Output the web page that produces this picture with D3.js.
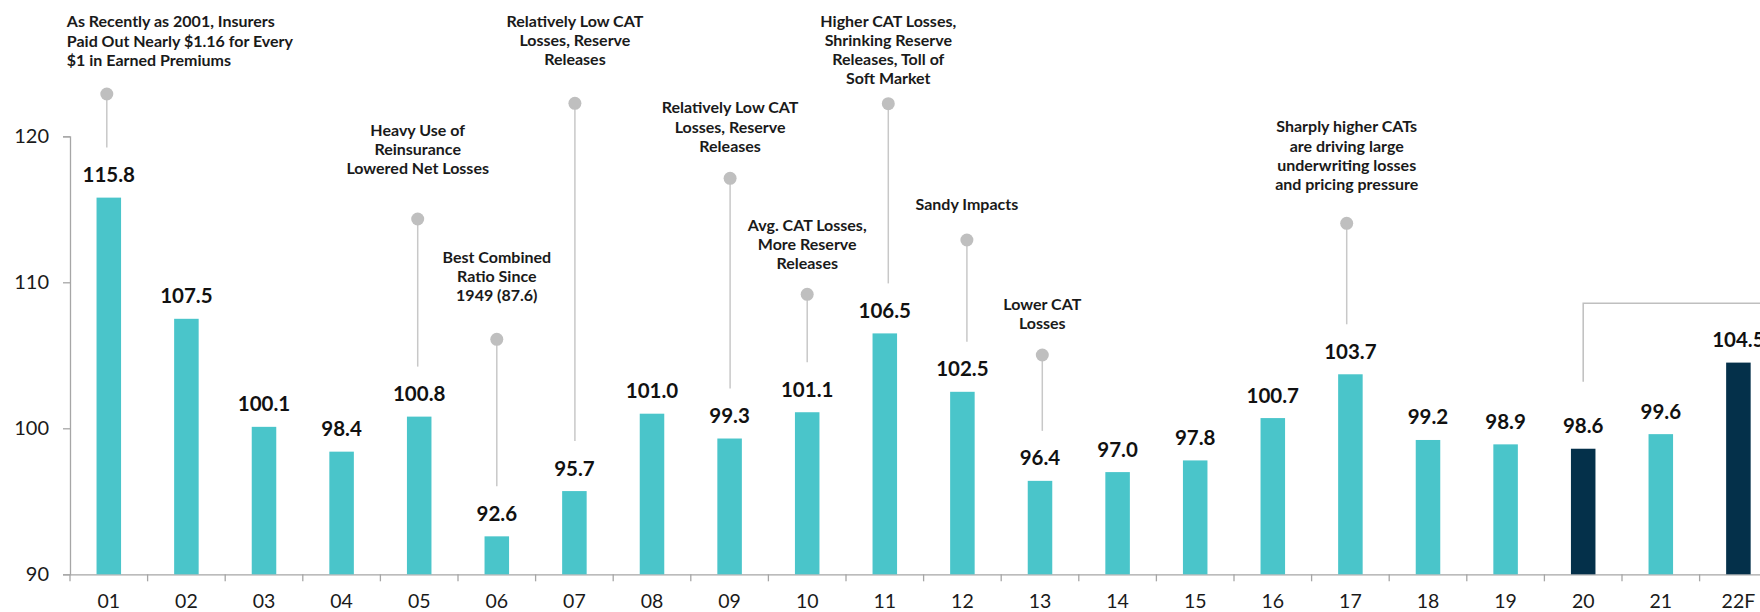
<!DOCTYPE html>
<html>
<head>
<meta charset="utf-8">
<script src="https://cdn.jsdelivr.net/npm/d3@7"></script>
<style>
  html, body { margin: 0; padding: 0; background: #ffffff; }
  svg { display: block; font-family: Lato, "Noto Sans", sans-serif; }
</style>
</head>
<body>
<svg id="chart" width="1760" height="612"></svg>
<script>
// Combined ratio by year (2001 – 2022 forecast)
const years = ["01","02","03","04","05","06","07","08","09","10","11",
               "12","13","14","15","16","17","18","19","20","21","22F"];
const combinedRatio = [115.8, 107.5, 100.1, 98.4, 100.8, 92.6, 95.7, 101.0, 99.3, 101.1, 106.5,
                       102.5, 96.4, 97.0, 97.8, 100.7, 103.7, 99.2, 98.9, 98.6, 99.6, 104.5];
const darkYears = ["20", "22F"];
const yTickValues = [90, 100, 110, 120];

// Callout notes, keyed by year
const noteYears = ["01", "05", "06", "07", "09", "10", "11", "12", "13", "17"];
const noteTexts = [
  ["As Recently as 2001, Insurers", "Paid Out Nearly $1.16 for Every", "$1 in Earned Premiums"],
  ["Heavy Use of", "Reinsurance", "Lowered Net Losses"],
  ["Best Combined", "Ratio Since", "1949 (87.6)"],
  ["Relatively Low CAT", "Losses, Reserve", "Releases"],
  ["Relatively Low CAT", "Losses, Reserve", "Releases"],
  ["Avg. CAT Losses,", "More Reserve", "Releases"],
  ["Higher CAT Losses,", "Shrinking Reserve", "Releases, Toll of", "Soft Market"],
  ["Sandy Impacts"],
  ["Lower CAT", "Losses"],
  ["Sharply higher CATs", "are driving large", "underwriting losses", "and pricing pressure"]
];

// Placement of each callout: first text baseline, dot height, text anchor / shift
const noteLayout = [
  { first: 27.3,  dot: 94,    anchor: "start",  dx: -2 },
  { first: 135.5, dot: 219,   anchor: "middle", dx: -1.5 },
  { first: 262.7, dot: 339.3, anchor: "middle", dx: 0 },
  { first: 26.7,  dot: 103.3, anchor: "middle", dx: 0.5 },
  { first: 113.3, dot: 178.3, anchor: "middle", dx: 0.5 },
  { first: 231,   dot: 294.3, anchor: "middle", dx: 0 },
  { first: 26.7,  dot: 103.7, anchor: "middle", dx: 3.5 },
  { first: 210,   dot: 240,   anchor: "middle", dx: 4.5 },
  { first: 310,   dot: 355,   anchor: "middle", dx: 2.3 },
  { first: 132.3, dot: 223.3, anchor: "middle", dx: -3.7 }
];

const svg = d3.select("#chart");

const plotLeft = 70, plotBottom = 574.3, plotTop = 136.3, slot = 77.6;
const x = d3.scaleBand().domain(years).range([plotLeft, plotLeft + slot * years.length]).padding(0);
const y = d3.scaleLinear().domain([90, 120]).range([plotBottom, plotTop]);
const barW = x.bandwidth() * 0.316;
const cx = d => x(d) + x.bandwidth() / 2;

const teal = "#4ac5ca", navy = "#04304a", axisGrey = "#a6a6a6";

// Y axis
const yAxis = svg.append("g")
  .attr("transform", `translate(${plotLeft},0)`)
  .call(d3.axisLeft(y).tickValues(yTickValues).tickSize(7).tickPadding(14).tickFormat(d3.format("d")));
yAxis.select(".domain").attr("stroke", axisGrey).attr("stroke-width", 1.3);
yAxis.selectAll(".tick line").attr("stroke", axisGrey).attr("stroke-width", 1.3);
yAxis.selectAll(".tick text")
  .attr("font-family", "Lato, sans-serif").attr("font-size", 20).attr("fill", "#1a1a1a");

// X axis: labels at band centres, ticks at band boundaries
const xAxis = svg.append("g")
  .attr("transform", `translate(0,${plotBottom})`)
  .call(d3.axisBottom(x).tickSize(0).tickPadding(0));
xAxis.select(".domain").attr("stroke", axisGrey).attr("stroke-width", 1.3);
xAxis.selectAll(".tick text")
  .attr("font-family", "Lato, sans-serif").attr("font-size", 19.5).attr("fill", "#1a1a1a")
  .attr("dy", 0).attr("y", 34);
xAxis.selectAll(".boundary")
  .data(years.concat(["end"]))
  .join("line")
  .attr("class", "boundary")
  .attr("x1", (d, i) => i < years.length ? x(d) : x.range()[1])
  .attr("x2", (d, i) => i < years.length ? x(d) : x.range()[1])
  .attr("y1", 0).attr("y2", 7)
  .attr("stroke", axisGrey).attr("stroke-width", 1.3);

// Bars
svg.append("g").selectAll("rect")
  .data(years)
  .join("rect")
  .attr("x", d => cx(d) - barW / 2)
  .attr("width", barW)
  .attr("y", (d, i) => y(combinedRatio[i]))
  .attr("height", (d, i) => plotBottom - y(combinedRatio[i]))
  .attr("fill", d => darkYears.includes(d) ? navy : teal);

// Value labels
svg.append("g").selectAll("text")
  .data(years)
  .join("text")
  .attr("x", d => cx(d))
  .attr("y", (d, i) => y(combinedRatio[i]) - 15.5)
  .attr("text-anchor", "middle")
  .attr("font-family", "Lato, sans-serif")
  .attr("font-weight", 700)
  .attr("font-size", 20.5)
  .attr("fill", "#111111")
  .text((d, i) => d3.format(".1f")(combinedRatio[i]));

// Callouts: pin line, dot and note text
const notes = svg.append("g");
noteYears.forEach((yr, k) => {
  const lay = noteLayout[k];
  const v = combinedRatio[years.indexOf(yr)];
  const px = cx(yr) + lay.dx;
  const lineEnd = y(v) - 50;
  notes.append("line")
    .attr("x1", px).attr("x2", px)
    .attr("y1", lay.dot).attr("y2", lineEnd)
    .attr("stroke", "#c8c8c8").attr("stroke-width", 1.5);
  notes.append("circle")
    .attr("cx", px).attr("cy", lay.dot).attr("r", 6.5)
    .attr("fill", "#bfbfbf");
  const tx = lay.anchor === "start" ? px - 40 : px;
  const t = notes.append("text")
    .attr("text-anchor", lay.anchor)
    .attr("font-family", "Lato, sans-serif")
    .attr("font-weight", 700)
    .attr("font-size", 16)
    .attr("fill", "#1a1a1a");
  noteTexts[k].forEach((line, j) => {
    t.append("tspan").attr("x", tx).attr("y", lay.first + j * 19.2).text(line);
  });
});

// Bracket spanning 2020 onwards
const bracketTop = 303.3, bracketFoot = 381.7;
svg.append("path")
  .attr("d", `M${cx("20")},${bracketFoot}V${bracketTop}H${1762}`)
  .attr("fill", "none")
  .attr("stroke", "#bfbfbf")
  .attr("stroke-width", 1.5);
</script>
</body>
</html>
